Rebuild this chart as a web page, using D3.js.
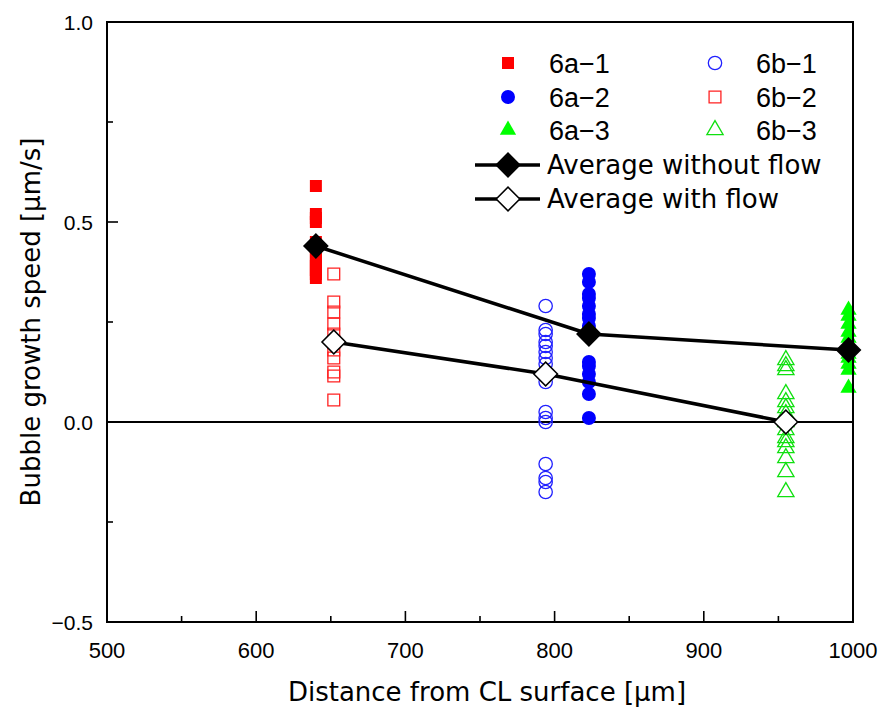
<!DOCTYPE html>
<html>
<head>
<meta charset="utf-8">
<script src="https://cdn.jsdelivr.net/npm/d3@7"></script>
<style>
  html, body { margin: 0; padding: 0; background: #fff; }
  svg { display: block; }
</style>
</head>
<body>
<svg id="chart" width="885" height="713"></svg>
<script>
// Bubble growth speed vs. distance from the CL surface

// x position (µm) of each measurement column
const xA1 = 640, xA2 = 823, xA3 = 997;
const xB1 = 794, xB2 = 652, xB3 = 955;

// growth speeds (µm/s), without flow
const valuesA1 = [0.59, 0.52, 0.51, 0.50, 0.45, 0.44, 0.43, 0.41, 0.40, 0.39, 0.38, 0.37, 0.36];
const valuesA2 = [0.37, 0.35, 0.32, 0.31, 0.29, 0.27, 0.26, 0.24, 0.23, 0.15, 0.14, 0.12, 0.10, 0.07, 0.01];
const valuesA3 = [0.28, 0.265, 0.245, 0.225, 0.21, 0.19, 0.17, 0.16, 0.145, 0.13, 0.085];

// growth speeds (µm/s), with flow
const valuesB1 = [0.29, 0.23, 0.22, 0.20, 0.19, 0.175, 0.16, 0.145, 0.12, 0.10, 0.025, 0.01, 0.0, -0.105, -0.14, -0.15, -0.175];
const valuesB2 = [0.37, 0.30, 0.275, 0.245, 0.22, 0.20, 0.18, 0.16, 0.125, 0.115, 0.055];
const valuesB3 = [0.155, 0.14, 0.13, 0.07, 0.05, 0.035, 0.02, 0.0, -0.02, -0.04, -0.05, -0.065, -0.09, -0.125, -0.175];

// averages
const avgWithoutX = [640, 823, 997];
const avgWithoutY = [0.44, 0.22, 0.18];
const avgWithX = [652, 794, 955];
const avgWithY = [0.20, 0.12, 0.0];

// axes
const xDomain = [500, 1000];
const yDomain = [-0.5, 1.0];
const xMajorTicks = [500, 600, 700, 800, 900, 1000];
const xMinorTicks = [550, 650, 750, 850, 950];
const yMajorTicks = [-0.5, 0.0, 0.5, 1.0];
const yMinorTicks = [-0.25, 0.25, 0.75];

const xTitle = "Distance from CL surface [\u03bcm]";
const yTitle = "Bubble growth speed [\u03bcm/s]";

const series = [
  { name: "6a\u22121", x: xA1, values: valuesA1, shape: "square",   color: "#ff0000", filled: true },
  { name: "6a\u22122", x: xA2, values: valuesA2, shape: "circle",   color: "#0000ff", filled: true },
  { name: "6a\u22123", x: xA3, values: valuesA3, shape: "triangle", color: "#00ff00", filled: true },
  { name: "6b\u22121", x: xB1, values: valuesB1, shape: "circle",   color: "#2020ff", filled: false },
  { name: "6b\u22122", x: xB2, values: valuesB2, shape: "square",   color: "#ff2020", filled: false },
  { name: "6b\u22123", x: xB3, values: valuesB3, shape: "triangle", color: "#10e010", filled: false }
];

const averages = [
  { name: "Average without flow", xs: avgWithoutX, ys: avgWithoutY, fill: "#000" },
  { name: "Average with flow",    xs: avgWithX,    ys: avgWithY,    fill: "#fff" }
];

const margin = { top: 22, right: 32, bottom: 91, left: 107 };
const W = 885, H = 713;
const iw = W - margin.left - margin.right;
const ih = H - margin.top - margin.bottom;

const svg = d3.select("#chart");
const g = svg.append("g").attr("transform", `translate(${margin.left},${margin.top})`);

const x = d3.scaleLinear().domain(xDomain).range([0, iw]);
const y = d3.scaleLinear().domain(yDomain).range([ih, 0]);

const symbolFor = {
  square:   d3.symbol().type(d3.symbolSquare).size(144),
  circle:   d3.symbol().type(d3.symbolCircle).size(154),
  triangle: d3.symbol().type(d3.symbolTriangle).size(115)
};
const symbolForHollow = {
  square:   d3.symbol().type(d3.symbolSquare).size(140),
  circle:   d3.symbol().type(d3.symbolCircle).size(140),
  triangle: d3.symbol().type(d3.symbolTriangle).size(115)
};
const diamond = d3.symbol().type(d3.symbolSquare).size(280);

function drawMarker(sel, s) {
  const gen = s.filled ? symbolFor[s.shape] : symbolForHollow[s.shape];
  sel.attr("d", gen())
    .attr("fill", s.filled ? s.color : "none")
    .attr("stroke", s.filled ? "none" : s.color)
    .attr("stroke-width", s.filled ? 0 : 1.3);
}

// zero line
g.append("line")
  .attr("x1", 0).attr("x2", iw)
  .attr("y1", y(0)).attr("y2", y(0))
  .attr("stroke", "#000").attr("stroke-width", 2);

// scatter columns
series.forEach(s => {
  g.append("g").selectAll("path")
    .data(s.values)
    .join("path")
    .attr("transform", d => `translate(${x(s.x)},${y(d)})`)
    .call(sel => drawMarker(sel, s));
});

// average lines and diamonds
const line = d3.line().x(d => x(d[0])).y(d => y(d[1]));
averages.forEach(a => {
  const pts = a.xs.map((v, i) => [v, a.ys[i]]);
  g.append("path")
    .attr("d", line(pts))
    .attr("fill", "none")
    .attr("stroke", "#000")
    .attr("stroke-width", 3.5)
    .attr("stroke-linejoin", "round");
  g.append("g").selectAll("path")
    .data(pts)
    .join("path")
    .attr("d", diamond())
    .attr("transform", d => `translate(${x(d[0])},${y(d[1])}) rotate(45)`)
    .attr("fill", a.fill)
    .attr("stroke", "#000")
    .attr("stroke-width", 1.5);
});

// frame
g.append("rect")
  .attr("x", 0).attr("y", 0).attr("width", iw).attr("height", ih)
  .attr("fill", "none").attr("stroke", "#000").attr("stroke-width", 2);

// inward ticks
const tickG = g.append("g").attr("stroke", "#000").attr("stroke-width", 1.6);
xMajorTicks.forEach(t => tickG.append("line").attr("x1", x(t)).attr("x2", x(t)).attr("y1", ih).attr("y2", ih - 11));
xMinorTicks.forEach(t => tickG.append("line").attr("x1", x(t)).attr("x2", x(t)).attr("y1", ih).attr("y2", ih - 6));
yMajorTicks.forEach(t => tickG.append("line").attr("x1", 0).attr("x2", 11).attr("y1", y(t)).attr("y2", y(t)));
yMinorTicks.forEach(t => tickG.append("line").attr("x1", 0).attr("x2", 6).attr("y1", y(t)).attr("y2", y(t)));

// tick labels
const fmtY = d3.format(".1f");
g.append("g").selectAll("text")
  .data(yMajorTicks)
  .join("text")
  .attr("x", -14)
  .attr("y", d => y(d) + 8)
  .attr("text-anchor", "end")
  .attr("font-family", "Liberation Sans, Arial, sans-serif")
  .attr("font-size", 21)
  .text(d => fmtY(d));

g.append("g").selectAll("text")
  .data(xMajorTicks)
  .join("text")
  .attr("x", d => x(d))
  .attr("y", ih + 36)
  .attr("text-anchor", "middle")
  .attr("font-family", "Liberation Sans, Arial, sans-serif")
  .attr("font-size", 22)
  .text(d => d);

// axis titles
svg.append("text")
  .attr("x", 487)
  .attr("y", 701)
  .attr("text-anchor", "middle")
  .attr("font-family", "DejaVu Sans, sans-serif")
  .attr("font-size", 26)
  .text(xTitle);

svg.append("text")
  .attr("transform", `translate(40,${margin.top + ih / 2}) rotate(-90)`)
  .attr("text-anchor", "middle")
  .attr("font-family", "DejaVu Sans, sans-serif")
  .attr("font-size", 26)
  .text(yTitle);

// legend
const legend = svg.append("g");
const rowY = [63, 97, 130, 165, 199];
const colMarkX = [508, 715];
const colTextX = [549, 756];

series.forEach((s, i) => {
  const col = i < 3 ? 0 : 1;
  const row = i % 3;
  legend.append("path")
    .attr("transform", `translate(${colMarkX[col]},${rowY[row]})`)
    .call(sel => drawMarker(sel, s));
  legend.append("text")
    .attr("x", colTextX[col])
    .attr("y", rowY[row] + 10)
    .attr("font-family", "Liberation Sans, Arial, sans-serif")
    .attr("font-size", 27)
    .text(s.name);
});

averages.forEach((a, i) => {
  const yy = rowY[3 + i];
  legend.append("line")
    .attr("x1", 475).attr("x2", 540)
    .attr("y1", yy).attr("y2", yy)
    .attr("stroke", "#000").attr("stroke-width", 3.5);
  legend.append("path")
    .attr("d", diamond())
    .attr("transform", `translate(508,${yy}) rotate(45)`)
    .attr("fill", a.fill)
    .attr("stroke", "#000")
    .attr("stroke-width", 1.5);
  legend.append("text")
    .attr("x", 547)
    .attr("y", yy + 9)
    .attr("font-family", "DejaVu Sans, sans-serif")
    .attr("font-size", 26)
    .text(a.name);
});
</script>
</body>
</html>
